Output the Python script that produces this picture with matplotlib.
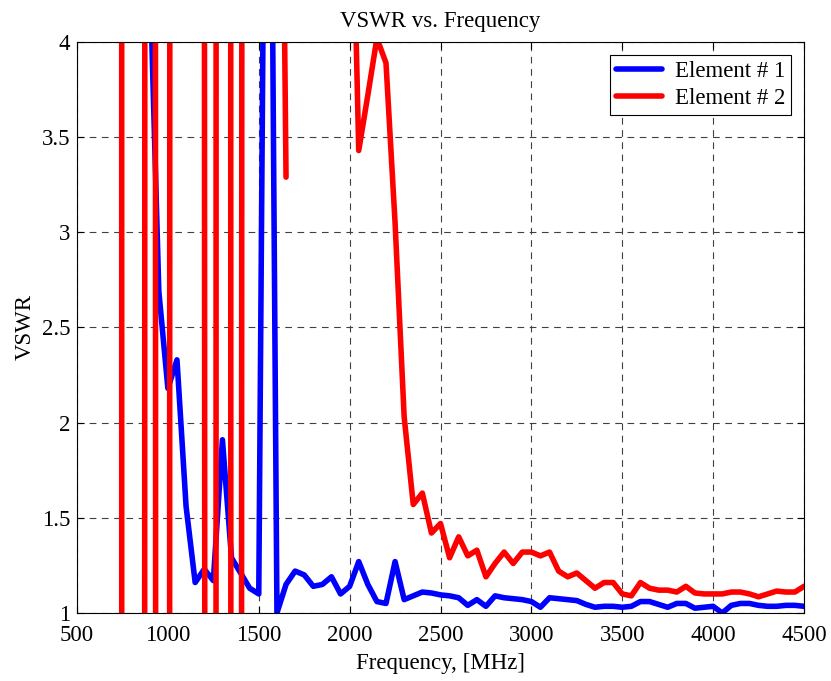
import numpy as np
import matplotlib
matplotlib.use('Agg')
import matplotlib.pyplot as plt

plt.rcParams['font.family'] = ['Liberation Serif', 'DejaVu Serif']

# frequency sweep, 50 MHz steps
freq = np.arange(500, 4550, 50)

# Element # 1 (values above 4 are off the chart)
vswr_1 = [
    12.0, 11.0, 10.5, 9.8, 8.5, 7.6, 6.8, 5.6, 4.4, 2.69,        # 500-950
    2.18, 2.33, 1.56, 1.16, 1.23, 1.17, 1.91, 1.29, 1.21, 1.13,  # 1000-1450
    1.10, 7.5, 1.0, 1.15, 1.22, 1.20, 1.14, 1.15, 1.19, 1.10,    # 1500-1950
    1.14, 1.27, 1.15, 1.06, 1.05, 1.27, 1.07, 1.09, 1.11, 1.105, # 2000-2450
    1.095, 1.09, 1.08, 1.04, 1.07, 1.035, 1.09, 1.08, 1.075, 1.07,
    1.06, 1.03, 1.08, 1.075, 1.07, 1.065, 1.045, 1.03, 1.035, 1.035,
    1.03, 1.035, 1.06, 1.06, 1.045, 1.03, 1.05, 1.05, 1.025, 1.03,
    1.035, 1.0, 1.04, 1.05, 1.05, 1.04, 1.035, 1.035, 1.04, 1.04,
    1.035,
]

# Element # 2 (unstable at low frequency: huge +/- values, gaps = no data)
vswr_2 = [
    np.nan, np.nan, np.nan, np.nan, 1150, -100, -95, -90, 115, -61,  # 500-950
    -30, 132, 140, 150, 6.5, -93.5, 226.5, -17, -10, 94,             # 1000-1450
    np.nan, np.nan, 8.0, 3.29, np.nan, np.nan, np.nan, np.nan, np.nan, np.nan,
    5.5, 3.43, 3.72, 4.02, 3.89, 3.05, 2.03, 1.57, 1.63, 1.42,       # 2000-2450
    1.47, 1.29, 1.40, 1.30, 1.33, 1.19, 1.26, 1.32, 1.26, 1.32,
    1.32, 1.30, 1.32, 1.22, 1.19, 1.21, 1.17, 1.13, 1.16, 1.16,
    1.10, 1.09, 1.16, 1.13, 1.12, 1.12, 1.11, 1.14, 1.105, 1.10,
    1.10, 1.10, 1.11, 1.11, 1.10, 1.085, 1.10, 1.115, 1.11, 1.11,
    1.14,
]

fs = 16.5

fig = plt.figure(figsize=(8.31, 6.81), dpi=100)
ax = fig.add_axes([0.0927, 0.0999, 0.8748, 0.8384])

ax.plot(freq, vswr_1, color='#0000ff', lw=4, label='Element # 1',
        solid_capstyle='round', solid_joinstyle='round')
ax.plot(freq, vswr_2, color='#ff0000', lw=4, label='Element # 2',
        solid_capstyle='round', solid_joinstyle='round')

ax.set_xlim(500, 4500)
ax.set_ylim(1, 4)
ax.set_xticks(np.arange(500, 4501, 500))
ax.set_yticks([1, 1.5, 2, 2.5, 3, 3.5, 4])
ax.set_yticklabels(['1', '1.5', '2', '2.5', '3', '3.5', '4'])

ax.grid(True, color='0.25', linestyle=(0, (6, 5)), linewidth=0.8)
ax.tick_params(direction='in', top=True, right=True, length=5, labelsize=fs)
ax.tick_params(axis='x', pad=9)
ax.tick_params(axis='y', pad=5)
for sp in ax.spines.values():
    sp.set_linewidth(0.8)

ax.set_title('VSWR vs. Frequency', fontsize=fs, pad=11)
ax.set_xlabel('Frequency, [MHz]', fontsize=fs, labelpad=5)
ax.set_ylabel('VSWR', fontsize=fs, labelpad=4)

leg = ax.legend(loc='upper right', fontsize=fs, fancybox=False, framealpha=1,
                edgecolor='k', handlelength=2.0, handletextpad=0.55,
                borderpad=0.28, labelspacing=0.25, borderaxespad=0.55)
leg.get_frame().set_linewidth(0.8)

fig.savefig('out.png', dpi=100)
